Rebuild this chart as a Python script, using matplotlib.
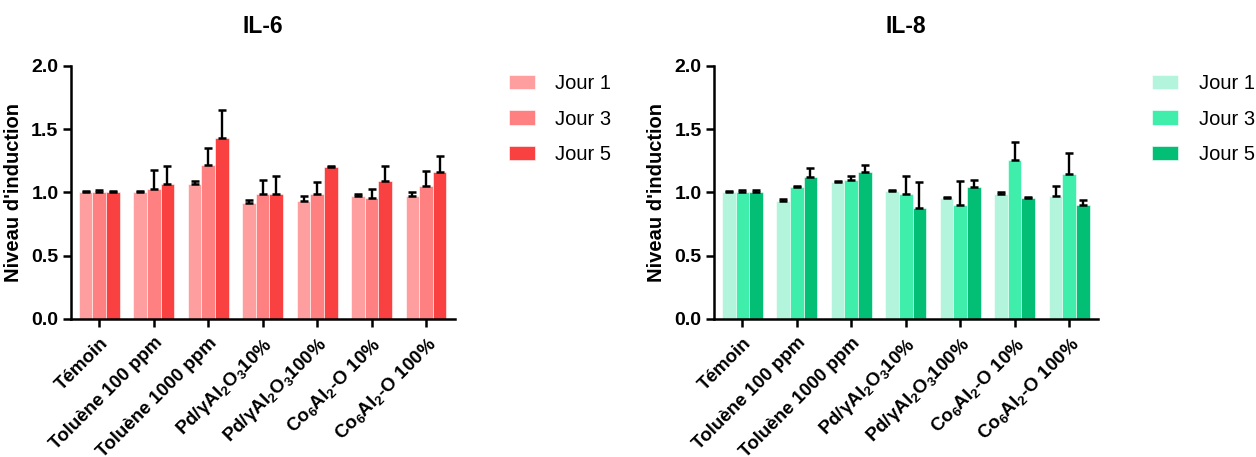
import matplotlib as mpl
import matplotlib.pyplot as plt
import numpy as np

CATEGORIES = [
    "Témoin",
    "Toluène 100 ppm",
    "Toluène 1000 ppm",
    r"Pd/$\gamma$Al$_2$O$_3$10%",
    r"Pd/$\gamma$Al$_2$O$_3$100%",
    r"Co$_6$Al$_2$-O 10%",
    r"Co$_6$Al$_2$-O 100%",
]
DAYS = ["Jour 1", "Jour 3", "Jour 5"]

IL6_MEAN = [
    [1.00, 1.00, 1.07, 0.92, 0.935, 0.975, 0.975],
    [1.00, 1.03, 1.22, 0.99, 0.99, 0.955, 1.05],
    [1.00, 1.065, 1.43, 0.99, 1.20, 1.09, 1.165],
]
IL6_ERR = [
    [0.01, 0.01, 0.02, 0.02, 0.035, 0.015, 0.025],
    [0.02, 0.15, 0.13, 0.11, 0.09, 0.075, 0.12],
    [0.01, 0.145, 0.22, 0.14, 0.01, 0.12, 0.125],
]
IL8_MEAN = [
    [1.00, 0.935, 1.08, 1.013, 0.955, 0.99, 0.975],
    [1.00, 1.04, 1.10, 0.99, 0.90, 1.26, 1.145],
    [1.00, 1.12, 1.165, 0.88, 1.045, 0.955, 0.90],
]
IL8_ERR = [
    [0.01, 0.015, 0.01, 0.005, 0.008, 0.01, 0.075],
    [0.02, 0.01, 0.03, 0.14, 0.19, 0.14, 0.165],
    [0.02, 0.07, 0.05, 0.20, 0.055, 0.008, 0.04],
]

RED = ["#ff9e9e", "#ff8080", "#f94141"]
GREEN = ["#b3f5dc", "#40eeac", "#03bf75"]

plt.rcParams.update({
    "font.family": ["Liberation Sans", "DejaVu Sans"],
    "mathtext.fontset": "custom",
    "mathtext.rm": "Liberation Sans",
    "mathtext.it": "Liberation Sans:italic",
    "mathtext.bf": "Liberation Sans:bold",
    "mathtext.default": "regular",
})


def draw_panel(ax, title, means, errs, colors):
    x = np.arange(len(CATEGORIES))
    w = 0.25
    for i, day in enumerate(DAYS):
        pos = x + (i - 1) * w
        ax.bar(pos, means[i], width=w, color=colors[i], label=day,
               edgecolor="white", linewidth=0.4, zorder=2)
        ax.errorbar(pos, means[i], yerr=[np.zeros(len(x)), errs[i]], fmt="none",
                    ecolor="black", elinewidth=1.7, capsize=3.0, capthick=1.8, zorder=3)
    ax.set_xlim(-0.52, 6.53)
    ax.set_ylim(0, 2.0)
    ax.set_yticks([0, 0.5, 1.0, 1.5, 2.0])
    ax.set_yticklabels(["0.0", "0.5", "1.0", "1.5", "2.0"], fontsize=14, fontweight="bold")
    ax.set_xticks(x)
    ax.set_xticklabels(CATEGORIES, rotation=45, ha="right", rotation_mode="anchor",
                       fontsize=13.5, fontweight="bold")
    ax.set_ylabel("Niveau d'induction", fontsize=14.5, fontweight="bold", labelpad=6)
    ax.set_title(title, fontsize=16.5, fontweight="bold", pad=24)
    for s in ["top", "right"]:
        ax.spines[s].set_visible(False)
    for s in ["left", "bottom"]:
        ax.spines[s].set_linewidth(1.8)
    ax.tick_params(axis="both", width=1.8, length=6, direction="out", pad=3)
    ax.tick_params(axis="x", pad=5)
    ax.legend(loc="upper left", bbox_to_anchor=(1.094, 1.04), frameon=False,
              fontsize=14.5, handlelength=1.3, handleheight=0.7, labelspacing=0.82,
              handletextpad=1.0)


fig = plt.figure(figsize=(12.56, 4.57), dpi=100)
ax1 = fig.add_axes([0.0565, 0.302, 0.3057, 0.5536])
ax2 = fig.add_axes([0.5685, 0.302, 0.3057, 0.5536])
draw_panel(ax1, "IL-6", IL6_MEAN, IL6_ERR, RED)
draw_panel(ax2, "IL-8", IL8_MEAN, IL8_ERR, GREEN)
fig.savefig("out.png", dpi=100)
